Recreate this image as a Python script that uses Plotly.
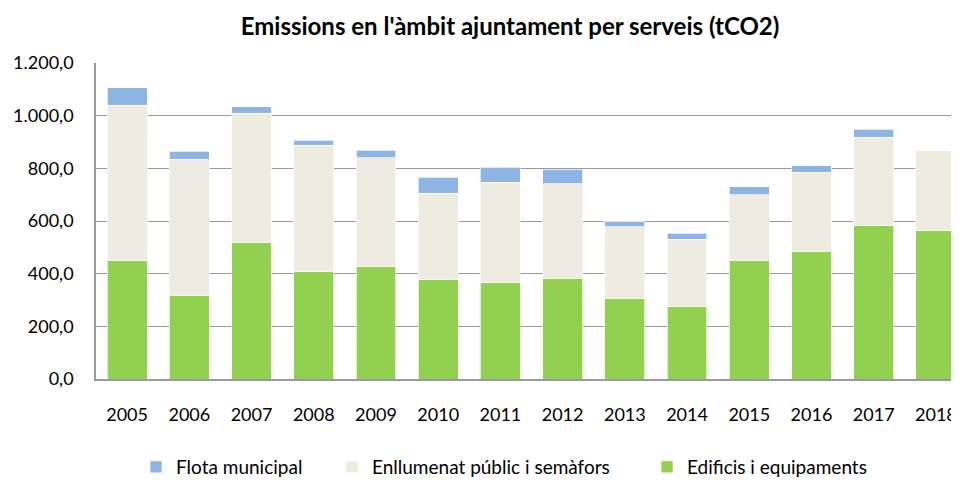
import plotly.graph_objects as go

years = ["2005", "2006", "2007", "2008", "2009", "2010", "2011",
         "2012", "2013", "2014", "2015", "2016", "2017", "2018"]
edificis = [451, 318, 517, 408, 426, 378, 365, 383, 305, 275, 451, 485, 584, 565]
enllumenat = [588, 516, 492, 479, 414, 328, 383, 358, 274, 255, 249, 300, 334, 304]
flota = [67, 30, 24, 20, 29, 61, 56, 56, 21, 24, 30, 24, 30, 0]

FONT = "Lato"
W, H = 959, 482
fig = go.Figure()
fig.add_trace(go.Bar(x=years, y=edificis, name="Edificis i equipaments",
                     marker=dict(color="#92D050", line=dict(color="rgba(255,255,255,0.7)", width=1)),
                     legend="legend3"))
fig.add_trace(go.Bar(x=years, y=enllumenat, name="Enllumenat públic i semàfors",
                     marker=dict(color="#EEECE1", line=dict(color="rgba(255,255,255,0.7)", width=1)),
                     legend="legend2"))
fig.add_trace(go.Bar(x=years, y=flota, name="Flota municipal",
                     marker=dict(color="#8EB4E3", line=dict(color="rgba(255,255,255,0.7)", width=1)),
                     legend="legend"))

leg_y = 1 - 459 / H
leg_common = dict(orientation="h", xref="container", yref="container",
                  yanchor="middle", xanchor="left", bgcolor="rgba(0,0,0,0)",
                  font=dict(family=FONT, size=19, color="#000000"),
                  itemwidth=30)
fig.update_layout(
    width=W, height=H,
    barmode="stack", bargap=0.36,
    separators=",.",
    plot_bgcolor="white", paper_bgcolor="white",
    margin=dict(l=88, r=0, t=55, b=H - 371),
    title=dict(text="<b>Emissions en l'àmbit ajuntament per serveis (tCO2)</b>",
               x=502 / W, xanchor="center", xref="container",
               y=1 - 19 / H, yanchor="middle", yref="container",
               font=dict(family=FONT, size=24, color="#000000")),
    showlegend=True,
    legend=dict(x=128 / W, y=leg_y, **leg_common),
    legend2=dict(x=324 / W, y=leg_y, **leg_common),
    legend3=dict(x=639 / W, y=leg_y, **leg_common),
    xaxis=dict(range=[-0.5, 13.5], showline=True, linecolor="#9A9A9A", linewidth=1.5,
               ticks="outside", ticklen=19, tickcolor="rgba(0,0,0,0)",
               tickfont=dict(family=FONT, size=18, color="#000000"),
               showgrid=False, fixedrange=True),
    yaxis=dict(range=[0, 1200], dtick=200, tickformat=",.1f",
               showline=True, linecolor="#9A9A9A", linewidth=1.5,
               showgrid=True, gridcolor="#9A9A9A", gridwidth=1.2,
               ticks="outside", ticklen=17, tickcolor="rgba(0,0,0,0)",
               tickfont=dict(family=FONT, size=18, color="#000000"),
               zeroline=False, fixedrange=True),
)
fig.write_html("out.html")
